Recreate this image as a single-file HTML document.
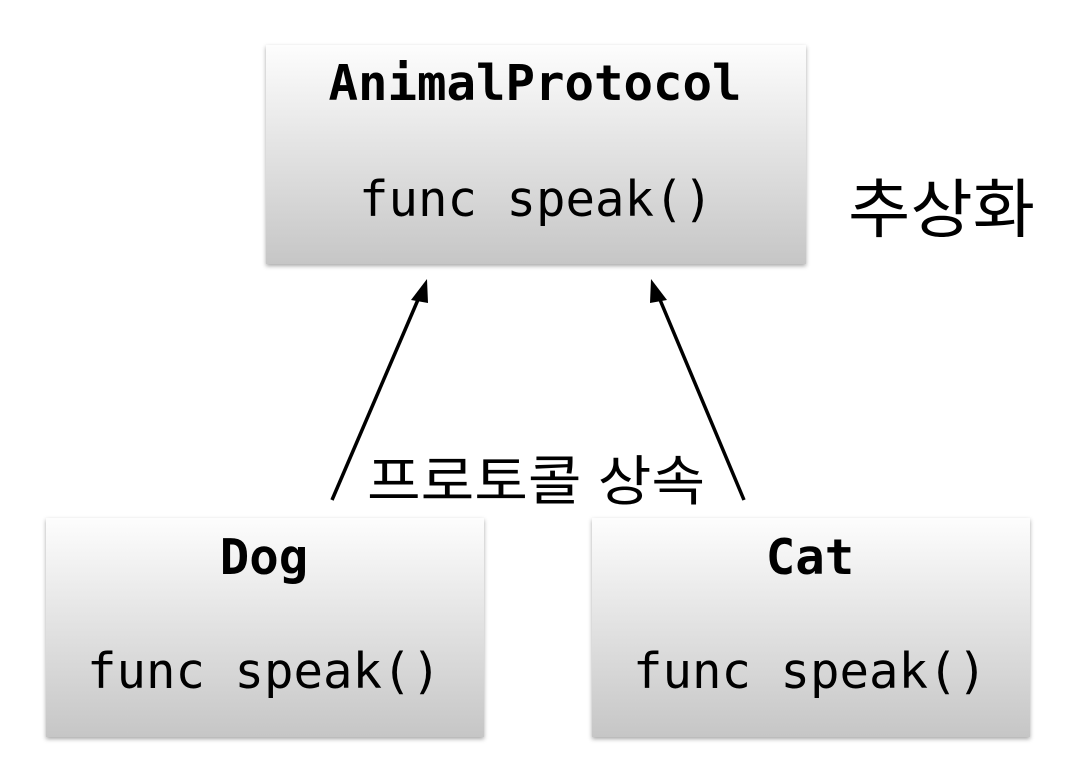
<!DOCTYPE html>
<html><head><meta charset="utf-8"><style>body{margin:0;background:#fff}</style></head>
<body>
<svg width="1076" height="776" xmlns="http://www.w3.org/2000/svg">
<defs>
<linearGradient id="g" x1="0" y1="0" x2="0" y2="1">
<stop offset="0" stop-color="#fdfdfd"/><stop offset="1" stop-color="#c6c6c6"/>
</linearGradient>
<filter id="s" x="-5%" y="-5%" width="110%" height="115%"><feDropShadow dx="0" dy="2" stdDeviation="2" flood-color="#000" flood-opacity="0.35"/></filter>
</defs>
<rect x="266" y="45" width="540" height="219" fill="url(#g)" filter="url(#s)"/>
<rect x="46" y="518" width="438" height="219" fill="url(#g)" filter="url(#s)"/>
<rect x="592" y="518" width="438" height="219" fill="url(#g)" filter="url(#s)"/>
<g font-family="'DejaVu Sans Mono','Liberation Mono',monospace" font-size="49" text-anchor="middle" fill="#000">
<text x="535" y="100" font-weight="bold">AnimalProtocol</text>
<text x="536" y="216">func speak()</text>
<text x="264" y="574" font-weight="bold">Dog</text>
<text x="264" y="688">func speak()</text>
<text x="810" y="574" font-weight="bold">Cat</text>
<text x="810" y="688">func speak()</text>
</g>
<g font-family="'Liberation Sans','Noto Sans CJK KR',sans-serif" fill="#000">
<text x="848" y="232" font-size="64" textLength="187" lengthAdjust="spacingAndGlyphs">추상화</text>
<text x="367" y="500" font-size="54" textLength="338" lengthAdjust="spacingAndGlyphs">프로토콜 상속</text>
</g>
<g stroke="#000" stroke-width="3.5">
<line x1="332" y1="500" x2="420" y2="295"/>
<line x1="744" y1="500" x2="658" y2="295"/>
</g>
<polygon points="427,279 411,300 428,303" fill="#000"/>
<polygon points="651,279 650,303 667,300" fill="#000"/>
</svg>
</body></html>
